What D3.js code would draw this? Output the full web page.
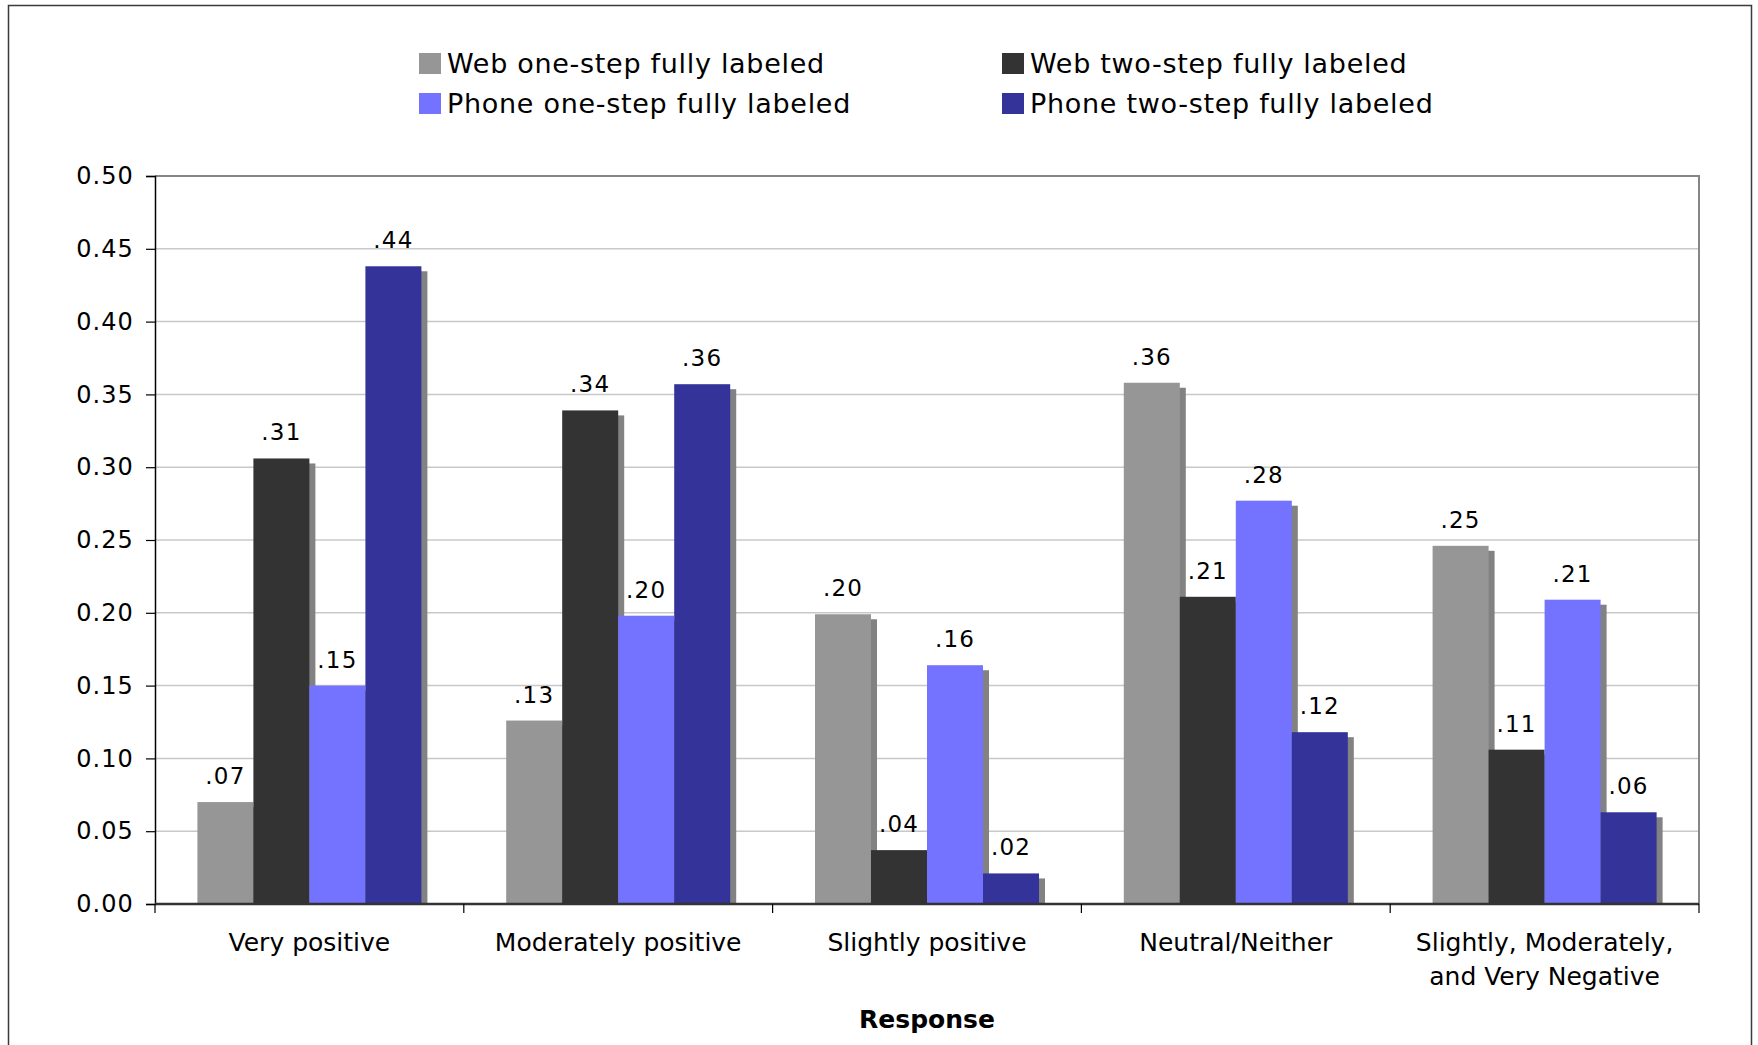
<!DOCTYPE html>
<html>
<head>
<meta charset="utf-8">
<script src="https://cdn.jsdelivr.net/npm/d3@7"></script>
<style>
  html, body { margin: 0; padding: 0; background: #fff; }
  svg { display: block; }
  text { font-family: "DejaVu Sans", Verdana, sans-serif; fill: #000; }
</style>
</head>
<body>
<svg id="chart" width="1758" height="1045"></svg>
<script>
// Response categories (multi-line labels split on "\n")
const categories = [
  "Very positive",
  "Moderately positive",
  "Slightly positive",
  "Neutral/Neither",
  "Slightly, Moderately,\nand Very Negative"
];

const seriesNames = [
  "Web one-step fully labeled",
  "Web two-step fully labeled",
  "Phone one-step fully labeled",
  "Phone two-step fully labeled"
];

const seriesColors = ["#969696", "#333333", "#7373FF", "#333399"];

// Proportion of responses per category, one array per mode/format
const webOneStep   = [0.070, 0.126, 0.199, 0.358, 0.246];
const webTwoStep   = [0.306, 0.339, 0.037, 0.211, 0.106];
const phoneOneStep = [0.150, 0.198, 0.164, 0.277, 0.209];
const phoneTwoStep = [0.438, 0.357, 0.021, 0.118, 0.063];

const yTicks = [0, 0.05, 0.10, 0.15, 0.20, 0.25, 0.30, 0.35, 0.40, 0.45, 0.50];
const xTitle = "Response";

const seriesValues = [webOneStep, webTwoStep, phoneOneStep, phoneTwoStep];

const svg = d3.select("#chart");

// outer frame
svg.append("path")
  .attr("d", "M8.5,1045 L8.5,5.5 L1751.5,5.5 L1751.5,1045")
  .attr("fill", "none").attr("stroke", "#3a3a3a").attr("stroke-width", 1.5);

const plotL = 155, plotR = 1699, plotT = 176, plotB = 904;

const x0 = d3.scaleBand().domain(d3.range(categories.length)).range([plotL, plotR]).paddingInner(0).paddingOuter(0);
const x1 = d3.scaleBand().domain(d3.range(seriesNames.length)).range([0, x0.bandwidth()]).paddingOuter(0.757).paddingInner(0);
const y = d3.scaleLinear().domain([0, 0.5]).range([plotB, plotT]);

// gridlines
svg.append("g").selectAll("line")
  .data(yTicks.filter(t => t > 0 && t < 0.5))
  .join("line")
  .attr("x1", plotL).attr("x2", plotR)
  .attr("y1", d => y(d)).attr("y2", d => y(d))
  .attr("stroke", "#c8c8c8").attr("stroke-width", 1.5);

// top and right frame of plot area
svg.append("path")
  .attr("d", `M${plotL},${y(0.5)} L${plotR},${y(0.5)} L${plotR},${plotB}`)
  .attr("fill", "none").attr("stroke", "#868686").attr("stroke-width", 2);

// flattened bar records
const bars = [];
categories.forEach((c, ci) => {
  seriesValues.forEach((vals, si) => {
    bars.push({ ci, si, v: vals[ci] });
  });
});

const fmt = v => d3.format(".2f")(v).replace(/^0/, "");

// drop shadows
svg.append("g").selectAll("rect")
  .data(bars)
  .join("rect")
  .attr("x", d => x0(d.ci) + x1(d.si) + 6)
  .attr("y", d => y(d.v) + 5)
  .attr("width", x1.bandwidth())
  .attr("height", d => Math.max(0, y(0) - y(d.v) - 5))
  .attr("fill", "#828282");

// bars
svg.append("g").selectAll("rect")
  .data(bars)
  .join("rect")
  .attr("x", d => x0(d.ci) + x1(d.si))
  .attr("y", d => y(d.v))
  .attr("width", x1.bandwidth())
  .attr("height", d => y(0) - y(d.v))
  .attr("fill", d => seriesColors[d.si]);

// value labels
svg.append("g").selectAll("text")
  .data(bars)
  .join("text")
  .attr("x", d => x0(d.ci) + x1(d.si) + x1.bandwidth() / 2)
  .attr("y", d => y(d.v) - 18)
  .attr("text-anchor", "middle")
  .style("font-size", "23px")
  .style("letter-spacing", "1.2px")
  .text(d => fmt(d.v));

// y axis
const yAxis = svg.append("g")
  .attr("transform", `translate(${plotL},0)`)
  .call(d3.axisLeft(y).tickValues(yTicks).tickSize(9).tickPadding(12).tickFormat(d3.format(".2f")));
yAxis.select(".domain").attr("stroke", "#000").attr("stroke-width", 1.5);
yAxis.selectAll(".tick line").attr("stroke", "#000").attr("stroke-width", 1.2);
yAxis.selectAll(".tick text")
  .style("font-size", "24px")
  .style("font-family", "'DejaVu Sans', Verdana, sans-serif")
  .style("letter-spacing", "1.1px")
  .attr("fill", "#000");

// x axis baseline and category ticks
const boundaries = d3.range(categories.length + 1).map(i => i === categories.length ? plotR : x0(i));
svg.append("line")
  .attr("x1", plotL).attr("x2", plotR)
  .attr("y1", plotB).attr("y2", plotB)
  .attr("stroke", "#333").attr("stroke-width", 2.5);
svg.append("g").selectAll("line")
  .data(boundaries)
  .join("line")
  .attr("x1", d => d).attr("x2", d => d)
  .attr("y1", plotB).attr("y2", plotB + 9)
  .attr("stroke", "#000").attr("stroke-width", 1.2);

// category labels
svg.append("g").selectAll("text")
  .data(categories)
  .join("text")
  .attr("x", (d, i) => x0(i) + x0.bandwidth() / 2)
  .attr("y", 951)
  .attr("text-anchor", "middle")
  .style("font-size", "25px")
  .each(function (d) {
    const lines = d.split("\n");
    const t = d3.select(this);
    lines.forEach((ln, k) => {
      t.append("tspan")
        .attr("x", t.attr("x"))
        .attr("dy", k === 0 ? 0 : 33.5)
        .text(ln);
    });
  });

// axis title
svg.append("text")
  .attr("x", (plotL + plotR) / 2)
  .attr("y", 1028)
  .attr("text-anchor", "middle")
  .style("font-size", "25px")
  .style("font-weight", "bold")
  .text(xTitle);

// legend: two columns, two rows
const legendPos = [[419, 53], [1002, 53], [419, 93], [1002, 93]];
const legend = svg.append("g").selectAll("g")
  .data(seriesNames)
  .join("g")
  .attr("transform", (d, i) => `translate(${legendPos[i][0]},${legendPos[i][1]})`);
legend.append("rect")
  .attr("width", 22).attr("height", 21)
  .attr("fill", (d, i) => seriesColors[i]);
legend.append("text")
  .attr("x", 28).attr("y", 20)
  .style("font-size", "27px")
  .style("letter-spacing", "0.7px")
  .text(d => d);
</script>
</body>
</html>
